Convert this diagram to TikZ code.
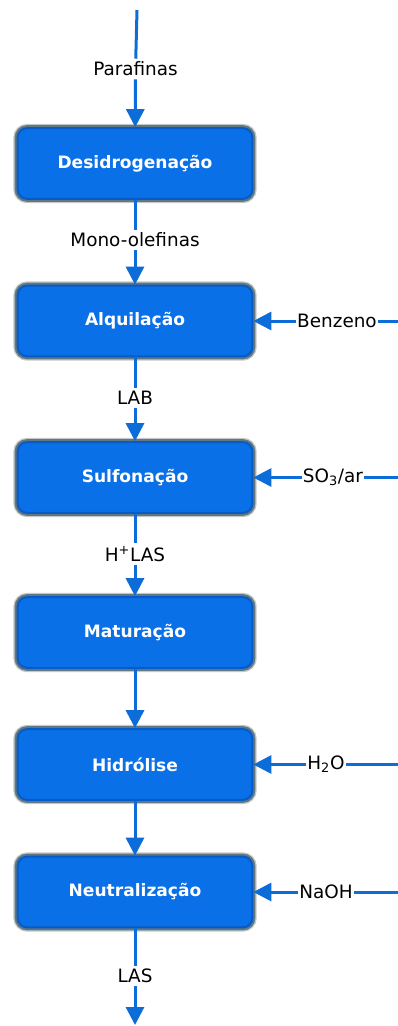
\documentclass[tikz,border=0pt]{standalone}
\usepackage{fontspec}
\setmainfont{DejaVu Sans}
\usetikzlibrary{arrows.meta}

\definecolor{boxblue}{RGB}{10,112,232}
\definecolor{edgeblue}{RGB}{8,90,200}
\definecolor{rimgray}{RGB}{96,120,126}
\definecolor{halogray}{RGB}{196,202,204}
\definecolor{flowblue}{RGB}{12,108,216}

\tikzset{every picture/.style={line width=0.75pt}}
\tikzset{
  procbox/.style={rounded corners=7pt, minimum width=176pt, minimum height=53pt, inner sep=0pt,
    fill=boxblue, draw=edgeblue, line width=1.5pt, text=white,
    font=\fontsize{12.8}{15}\selectfont\bfseries,
    preaction={draw=halogray, line width=6.5pt},
    preaction={draw=rimgray, line width=4.5pt}},
  flowlabel/.style={inner sep=2pt, font=\fontsize{13.8}{16}\selectfont},
  sidelabel/.style={flowlabel, inner sep=0.6pt},
  flow/.style={draw=flowblue, line width=2.25pt},
  flowarrow/.style={flow, -{Triangle[length=13.5pt,width=13.5pt]}}
}

\begin{document}
\begin{tikzpicture}[x=0.75pt,y=0.75pt,yscale=-1,xscale=1]
    \useasboundingbox (0,0) rectangle (398,1026);

    % Process Boxes
    \draw (135,163.5) node [procbox] (desid) {Desidrogenação};
    \draw (135,321) node [procbox] (alq) {Alquilação};
    \draw (135,477.5) node [procbox] (sulf) {Sulfonação};
    \draw (135,632.5) node [procbox] (matur) {Maturação};
    \draw (135,764.5) node [procbox] (hidr) {Hidrólise};
    \draw (135,892) node [procbox] (neutr) {Neutralização};

    % Text Node
    \draw (135.5,69) node [flowlabel] (paraf) {Parafinas};
    % Text Node
    \draw (135,240) node [flowlabel] (mono) {Mono-olefinas};
    % Text Node
    \draw (135,398) node [flowlabel] (lab) {LAB};
    % Text Node
    \draw (135,554) node [flowlabel] (hlas) {H\textsuperscript{+}LAS};
    % Text Node
    \draw (135,976) node [flowlabel] (las) {LAS};
    % Text Node
    \draw (337,321) node [sidelabel] (benz) {Benzeno};
    % Text Node
    \draw (333,477.5) node [sidelabel] (so3) {SO\textsubscript{3}/ar};
    % Text Node
    \draw (326,764.5) node [sidelabel] (agua) {H\textsubscript{2}O};
    % Text Node
    \draw (326,892) node [sidelabel] (naoh) {NaOH};

    % Free ends
    \coordinate (src) at (137,10);
    \coordinate (out) at (135,1025);
    \coordinate (rbenz) at (398,321);
    \coordinate (rso3) at (398,477.5);
    \coordinate (ragua) at (398,764.5);
    \coordinate (rnaoh) at (398,892);

    %Straight Lines
    \draw [flow] (src) -- (paraf);
    \draw [flowarrow] (paraf) -- (desid);
    \draw [flow] (desid) -- (mono);
    \draw [flowarrow] (mono) -- (alq);
    \draw [flow] (alq) -- (lab);
    \draw [flowarrow] (lab) -- (sulf);
    \draw [flow] (sulf) -- (hlas);
    \draw [flowarrow] (hlas) -- (matur);
    \draw [flowarrow] (matur) -- (hidr);
    \draw [flowarrow] (hidr) -- (neutr);
    \draw [flow] (neutr) -- (las);
    \draw [flowarrow] (las) -- (out);

    %Straight Lines
    \draw [flow] (rbenz) -- (benz);
    \draw [flowarrow] (benz) -- (alq);
    \draw [flow] (rso3) -- (so3);
    \draw [flowarrow] (so3) -- (sulf);
    \draw [flow] (ragua) -- (agua);
    \draw [flowarrow] (agua) -- (hidr);
    \draw [flow] (rnaoh) -- (naoh);
    \draw [flowarrow] (naoh) -- (neutr);

\end{tikzpicture}
\end{document}
